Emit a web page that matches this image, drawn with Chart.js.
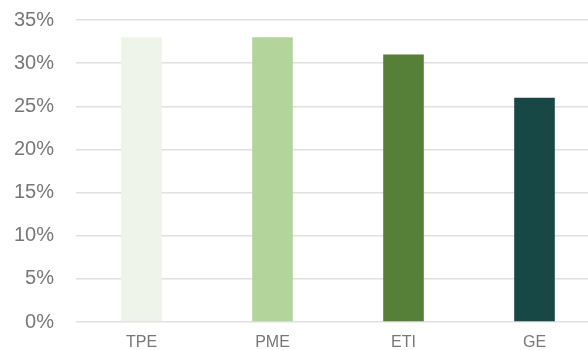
<!DOCTYPE html>
<html>
<head>
<meta charset="utf-8">
<script src="https://cdn.jsdelivr.net/npm/chart.js@4/dist/chart.umd.min.js"></script>
<style>
  html, body { margin: 0; padding: 0; background: #fff; overflow: hidden; }
  #wrap { width: 600px; height: 352px; }
</style>
</head>
<body>
<div id="wrap"><canvas id="sizeChart"></canvas></div>
<script>
// Share by company size
const categories = ['TPE', 'PME', 'ETI', 'GE'];
const shares = [33, 33, 31, 26];
const barColors = ['#eef4e9', '#b3d49a', '#567f37', '#174845'];

const ctx = document.getElementById('sizeChart').getContext('2d');
new Chart(ctx, {
    type: 'bar',
    data: {
        labels: categories,
        datasets: [{
            data: shares,
            backgroundColor: barColors,
            borderWidth: 0,
            categoryPercentage: 1,
            barPercentage: 0.31
        }]
    },
    options: {
        responsive: true,
        maintainAspectRatio: false,
        animation: false,
        layout: { padding: { top: 20, right: 0, left: 0, bottom: 0 } },
        plugins: {
            legend: { display: false },
            tooltip: { enabled: false }
        },
        scales: {
            y: {
                min: 0,
                max: 35,
                // fixed axis width, no extra room for the end labels
                afterFit: scale => {
                    scale.width = 76;
                    scale.paddingTop = 0;
                    scale.paddingBottom = 0;
                },
                ticks: {
                    stepSize: 5,
                    padding: 22,
                    color: '#777',
                    font: { family: 'Liberation Sans', size: 20 },
                    callback: v => v + '%'
                },
                grid: { color: '#e0e0e0', lineWidth: 1.5, drawTicks: false },
                border: { display: false }
            },
            x: {
                afterFit: scale => {
                    scale.height = 30;
                    scale.paddingLeft = 0;
                    scale.paddingRight = 0;
                },
                ticks: {
                    padding: 11,
                    color: '#777',
                    font: { family: 'Liberation Sans', size: 16 }
                },
                grid: { display: false, drawTicks: false },
                border: { display: false }
            }
        }
    }
});
</script>
</body>
</html>
